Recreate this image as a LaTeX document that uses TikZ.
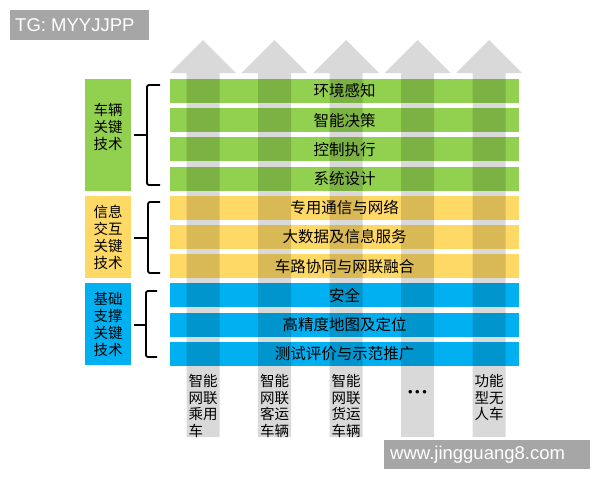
\documentclass[tikz,border=0pt]{standalone}
\usepackage{fontspec}
\setmainfont{Noto Sans CJK SC}
\newfontfamily\markfont{Liberation Sans}

\definecolor{techgreen}{RGB}{146,208,80}
\definecolor{techyellow}{RGB}{255,217,102}
\definecolor{techblue}{RGB}{0,176,240}
\definecolor{markgray}{RGB}{166,166,166}

\tikzset{
  layer/.style={minimum width=349pt, minimum height=24pt, inner sep=0pt},
  layertext/.style={inner sep=0pt, font=\fontsize{15.5}{17}\selectfont},
  group/.style={minimum width=46pt, inner sep=0pt},
  grouptext/.style={inner sep=0pt, align=center, font=\fontsize{14.5}{17}\selectfont},
  lift/.style={fill=black, fill opacity=0.15},
  bracket/.style={line width=1.8pt, rounded corners=2pt},
  vehicle/.style={inner sep=0pt, align=left, anchor=north, font=\fontsize{14.5}{16.7}\selectfont},
  wmark/.style={inner sep=0pt, text=white, font=\markfont\fontsize{18.5}{20}\selectfont}
}

\begin{document}
\begin{tikzpicture}[x=1pt,y=-1pt]
    \useasboundingbox (0,0) rectangle (600,480);

    \fill[markgray] (10,10) rectangle (149,40);
    \node[wmark, anchor=west] (tg) at (15,25.5) {TG: MYYJJPP};

    \foreach \c/\t [count=\i from 0] in {techgreen/环境感知, techgreen/智能决策, techgreen/控制执行, techgreen/系统设计, techyellow/专用通信与网络, techyellow/大数据及信息服务, techyellow/车路协同与网联融合, techblue/安全, techblue/高精度地图及定位, techblue/测试评价与示范推广}
        \node[layer, fill=\c] (layer\i) at (344.5,{91+29.2*\i}) {};

    \node[group, fill=techgreen, minimum height=112pt] (vehicle) at (108,135) {};
    \node[group, fill=techyellow, minimum height=82pt] (info) at (108,237) {};
    \node[group, fill=techblue, minimum height=82pt] (base) at (108,324) {};

    \foreach \x in {203,274.5,346,417.5,489}
        \fill[lift] ({\x-16.5},437) -- ({\x-16.5},73) -- ({\x-33},73) -- (\x,40) -- ({\x+33},73) -- ({\x+16.5},73) -- ({\x+16.5},437) -- cycle;

    \foreach \t [count=\i from 0] in {环境感知, 智能决策, 控制执行, 系统设计, 专用通信与网络, 大数据及信息服务, 车路协同与网联融合, 安全, 高精度地图及定位, 测试评价与示范推广}
        \node[layertext] at (layer\i) {\t};

    \node[grouptext] at (108,127) {车辆\\关键\\技术};
    \node[grouptext] at (info) {信息\\交互\\关键\\技术};
    \node[grouptext] at (base) {基础\\支撑\\关键\\技术};

    \draw[bracket] (160,85) -- (147,85) -- (147,185) -- (160,185);
    \draw[bracket] (147,135) -- (134,135);
    \draw[bracket] (160,202) -- (148,202) -- (148,273) -- (160,273);
    \draw[bracket] (148,238) -- (134,238);
    \draw[bracket] (157,291) -- (146,291) -- (146,357) -- (157,357);
    \draw[bracket] (146,325) -- (134,325);

    \node[vehicle] (car) at (203,374) {智能\\网联\\乘用\\车};
    \node[vehicle] (bus) at (274.5,374) {智能\\网联\\客运\\车辆};
    \node[vehicle] (truck) at (346,374) {智能\\网联\\货运\\车辆};
    \node[inner sep=0pt, font=\markfont\fontsize{13}{13}\selectfont] (more) at (417.5,393) {•\hspace{2.5pt}•\hspace{2.5pt}•};
    \node[vehicle] (robo) at (489,374) {功能\\型无\\人车};

    \fill[markgray] (384,440) rectangle (590,469);
    \node[wmark, anchor=west] (site) at (390,455) {www.jingguang8.com};

\end{tikzpicture}
\end{document}
